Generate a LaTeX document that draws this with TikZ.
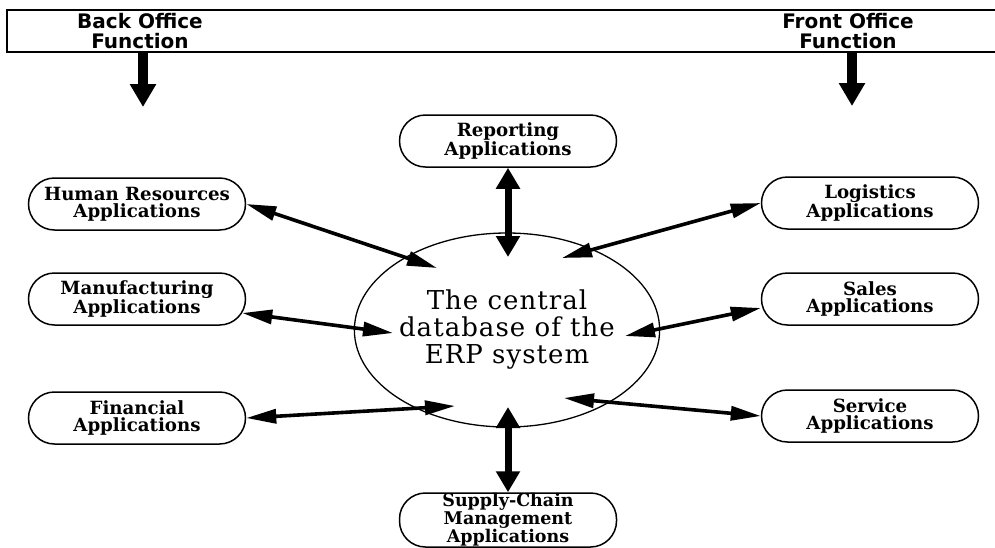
\documentclass[tikz,border=0pt]{standalone}
\usepackage{fontspec}
\setmainfont{DejaVu Serif}
\newfontfamily\hdrfont{DejaVu Sans}
\newfontfamily\dbfont{DejaVu Serif}[LetterSpace=4]
\usetikzlibrary{arrows.meta,calc,shapes.geometric}
\begin{document}
\begin{tikzpicture}[x=1pt,y=-1pt,
  app/.style={draw, line width=1.5pt, rounded corners=26pt, minimum width=217pt,
    minimum height=52pt, align=center, inner sep=0pt,
    font=\fontsize{18.2}{17}\selectfont\bfseries},
  hdr/.style={align=center, inner sep=0pt, font=\hdrfont\fontsize{20}{20}\selectfont\bfseries},
  link/.style={line width=3.6pt,
    {Triangle[length=30pt,width=14pt]}-{Triangle[length=30pt,width=14pt]}},
  vlink/.style={line width=7pt,
    {Triangle[length=21pt,width=23pt]}-{Triangle[length=21pt,width=23pt]}},
  down/.style={line width=10pt, -{Triangle[length=23pt,width=25pt]}}]
\useasboundingbox (0,0) rectangle (995,547);
% top bar
\draw[line width=1.5pt] (995,10) -- (7,10) -- (7,52) -- (995,52);
\node[hdr] (back) at (140,31) {Back Office\\Function};
\node[hdr] (front) at (848,31) {Front Office\\Function};
\coordinate (backS) at (143,52);
\coordinate (backT) at (143,107);
\coordinate (frontS) at (852,51);
\coordinate (frontT) at (852,106);
\draw[down] (backS) -- (backT);
\draw[down] (frontS) -- (frontT);
% central database
\node[draw, ellipse, line width=1.3pt, minimum width=300pt, minimum height=194pt,
  inner sep=0pt, align=center, font=\dbfont\fontsize{26}{27}\selectfont]
  (db) at (507,330) {The central\\database of the\\ERP system};
% applications
\node[app] (rep) at (508,141) {Reporting\\Applications};
\node[app] (hr) at (137,204) {Human Resources\\Applications};
\node[app] (man) at (137,299) {Manufacturing\\Applications};
\node[app] (fin) at (137,418) {Financial\\Applications};
\node[app] (log) at (870,203) {Logistics\\Applications};
\node[app] (sales) at (870,299) {Sales\\Applications};
\node[app] (serv) at (870,416) {Service\\Applications};
\node[app, minimum height=54pt, font=\fontsize{17.5}{15}\selectfont\bfseries]
  (sup) at (508,520) {Supply-Chain\\Management\\Applications};
% tips inside the database
\coordinate (dHR) at ($(db.center)+(-70,-62)$);
\coordinate (dRep) at ($(db.center)+(1,-73)$);
\coordinate (dLog) at ($(db.center)+(55,-72)$);
\coordinate (dMan) at ($(db.center)+(-114,3)$);
\coordinate (dSal) at ($(db.center)+(118,6)$);
\coordinate (dFin) at ($(db.center)+(-52,76)$);
\coordinate (dSer) at ($(db.center)+(57,68)$);
\coordinate (dSup) at ($(db.center)+(1,77)$);
% connectors
\draw[link] (hr.east) -- (dHR);
\draw[link] ($(man.east)+(-4,14)$) -- (dMan);
\draw[link] (fin.east) -- (dFin);
\draw[link] (log.west) -- (dLog);
\draw[link] ($(sales.west)+(0,9)$) -- (dSal);
\draw[link] (serv.west) -- (dSer);
\draw[vlink] (rep.south) -- (dRep);
\draw[vlink] (sup.north) -- (dSup);
\end{tikzpicture}
\end{document}
